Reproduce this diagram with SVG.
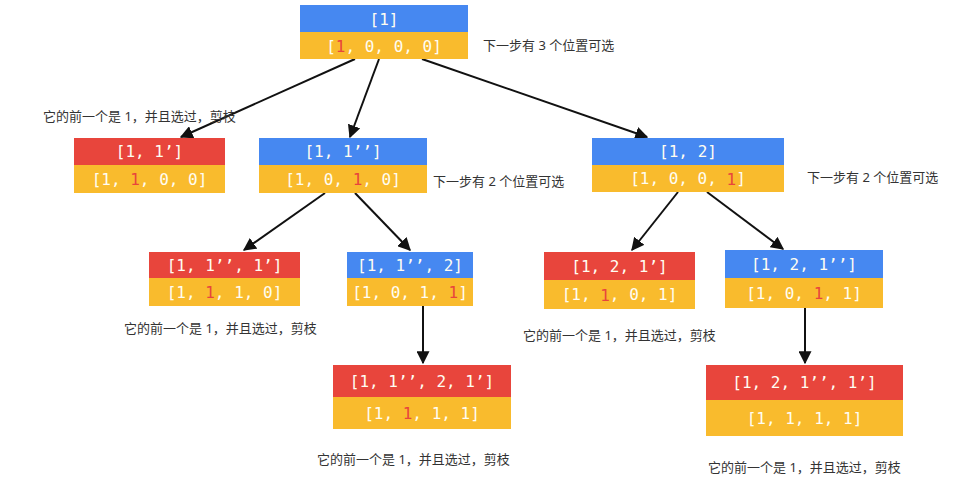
<svg xmlns="http://www.w3.org/2000/svg" width="965" height="497" viewBox="0 0 965 497">
<style>
.b{fill:#4688F1}.r{fill:#E8453C}.y{fill:#F9BB2D}
.t{font-family:"DejaVu Sans Mono","Liberation Mono",monospace;font-size:16px;fill:#FFFDF2;text-anchor:middle;dominant-baseline:central}
.h{fill:#E8453C}
.n{font-family:"Noto Sans","Noto Sans CJK SC",sans-serif;font-size:13px;fill:#333;dominant-baseline:central}
.e{stroke:#111;stroke-width:2;fill:none;marker-end:url(#a)}
</style>
<defs>
<marker id="a" viewBox="0 0 10 10" refX="9" refY="5" markerWidth="6.5" markerHeight="6.5" markerUnits="strokeWidth" orient="auto">
<path d="M0,0 L10,5 L0,10 z" fill="#111"/>
</marker>
</defs>
<g id="connectors">
<line class="e" x1="355" y1="59" x2="181" y2="137"/>
<line class="e" x1="379" y1="59" x2="350" y2="137"/>
<line class="e" x1="422" y1="59" x2="647" y2="137"/>
<line class="e" x1="325" y1="193" x2="244" y2="250"/>
<line class="e" x1="355" y1="193" x2="410" y2="250"/>
<line class="e" x1="678" y1="192" x2="632" y2="250"/>
<line class="e" x1="707" y1="192" x2="783" y2="249"/>
<line class="e" x1="423" y1="306" x2="423" y2="363"/>
<line class="e" x1="805" y1="308" x2="805" y2="363"/>
</g>
<g id="n_root">
<rect class="b" x="300" y="5" width="168" height="27"/>
<rect class="y" x="300" y="32" width="168" height="27"/>
<text class="t" x="384" y="19">[1]</text>
<text class="t" x="384" y="46">[<tspan class="h">1</tspan>, 0, 0, 0]</text>
</g>
<g id="n_11a">
<rect class="r" x="74" y="138" width="151" height="27"/>
<rect class="y" x="74" y="165" width="151" height="28"/>
<text class="t" x="149.5" y="151.5">[1, 1’]</text>
<text class="t" x="149.5" y="179">[1, <tspan class="h">1</tspan>, 0, 0]</text>
</g>
<g id="n_11b">
<rect class="b" x="259" y="138" width="168" height="27"/>
<rect class="y" x="259" y="165" width="168" height="28"/>
<text class="t" x="343" y="151.5">[1, 1’’]</text>
<text class="t" x="343" y="179">[1, 0, <tspan class="h">1</tspan>, 0]</text>
</g>
<g id="n_12">
<rect class="b" x="592" y="138" width="192" height="27"/>
<rect class="y" x="592" y="165" width="192" height="27"/>
<text class="t" x="688" y="151.5">[1, 2]</text>
<text class="t" x="688" y="178.5">[1, 0, 0, <tspan class="h">1</tspan>]</text>
</g>
<g id="n_11b1a">
<rect class="r" x="149" y="252" width="151" height="26"/>
<rect class="y" x="149" y="278" width="151" height="28"/>
<text class="t" x="224.5" y="265">[1, 1’’, 1’]</text>
<text class="t" x="224.5" y="292">[1, <tspan class="h">1</tspan>, 1, 0]</text>
</g>
<g id="n_11b2">
<rect class="b" x="347" y="252" width="126" height="26"/>
<rect class="y" x="347" y="278" width="126" height="28"/>
<text class="t" x="410" y="265">[1, 1’’, 2]</text>
<text class="t" x="410" y="292">[1, 0, 1, <tspan class="h">1</tspan>]</text>
</g>
<g id="n_121a">
<rect class="r" x="544" y="252" width="151" height="28"/>
<rect class="y" x="544" y="280" width="151" height="29"/>
<text class="t" x="619.5" y="266">[1, 2, 1’]</text>
<text class="t" x="619.5" y="294.5">[1, <tspan class="h">1</tspan>, 0, 1]</text>
</g>
<g id="n_121b">
<rect class="b" x="725" y="250" width="158" height="28"/>
<rect class="y" x="725" y="278" width="158" height="30"/>
<text class="t" x="804" y="264">[1, 2, 1’’]</text>
<text class="t" x="804" y="293">[1, 0, <tspan class="h">1</tspan>, 1]</text>
</g>
<g id="n_11b21a">
<rect class="r" x="333" y="365" width="178" height="32"/>
<rect class="y" x="333" y="397" width="178" height="32"/>
<text class="t" x="422" y="381">[1, 1’’, 2, 1’]</text>
<text class="t" x="422" y="413">[1, <tspan class="h">1</tspan>, 1, 1]</text>
</g>
<g id="n_121b1a">
<rect class="r" x="706" y="365" width="197" height="35"/>
<rect class="y" x="706" y="400" width="197" height="36"/>
<text class="t" x="804.5" y="382.5">[1, 2, 1’’, 1’]</text>
<text class="t" x="804.5" y="418">[1, 1, 1, 1]</text>
</g>
<g id="labels">
<text class="n" x="483" y="45">下一步有 3 个位置可选</text>
<text class="n" x="43" y="116">它的前一个是 1，并且选过，剪枝</text>
<text class="n" x="433" y="181">下一步有 2 个位置可选</text>
<text class="n" x="807" y="177">下一步有 2 个位置可选</text>
<text class="n" x="124" y="328">它的前一个是 1，并且选过，剪枝</text>
<text class="n" x="523" y="335">它的前一个是 1，并且选过，剪枝</text>
<text class="n" x="317" y="459">它的前一个是 1，并且选过，剪枝</text>
<text class="n" x="708" y="467">它的前一个是 1，并且选过，剪枝</text>
</g>
</svg>
